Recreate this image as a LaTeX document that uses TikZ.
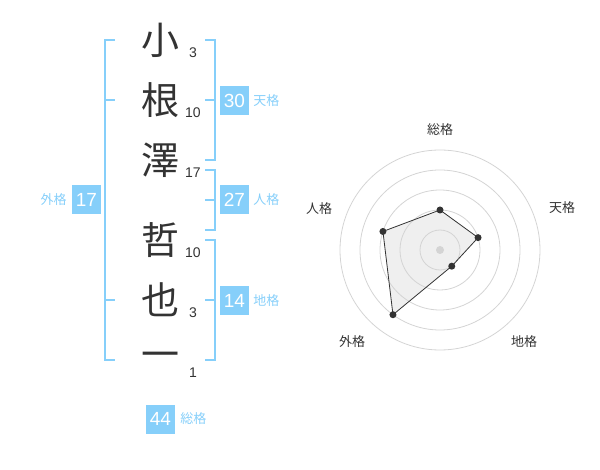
\documentclass[tikz,border=0pt]{standalone}
\usepackage{fontspec}
\setmainfont{Liberation Sans}
\newfontfamily\jp{Noto Sans CJK JP}
\usetikzlibrary{positioning}
\definecolor{sky}{HTML}{86CFFA}
\definecolor{ink}{HTML}{333333}
\definecolor{ring}{HTML}{D4D4D4}
\definecolor{area}{HTML}{EFEFEF}
\tikzset{
  kanji/.style={text=ink,font=\jp\fontsize{38}{38}\selectfont,inner sep=0pt},
  strokes/.style={text=ink,font=\fontsize{14}{14}\selectfont,inner sep=0pt},
  score/.style={fill=sky,text=white,minimum size=29pt,inner sep=0pt,font=\fontsize{19}{19}\selectfont},
  kaku/.style={text=sky,font=\jp\fontsize{13}{13}\selectfont,inner sep=0pt},
  bracket/.style={draw=sky,line width=2pt},
  axis/.style={text=ink,font=\jp\fontsize{13}{13}\selectfont,inner sep=0pt}
}
\begin{document}
\begin{tikzpicture}[x=1pt,y=-1pt]
  \useasboundingbox (0,0) rectangle (600,470);

  % name
  \node[kanji] at (160,40) (k1) {小};
  \node[kanji] at (160,100) (k2) {根};
  \node[kanji] at (160,160) (k3) {澤};
  \node[kanji] at (160,240) (k4) {哲};
  \node[kanji] at (160,300) (k5) {也};
  \node[kanji] at (160,360) (k6) {一};

  \node[strokes] at (193,53) (s1) {3};
  \node[strokes] at (193,113) (s2) {10};
  \node[strokes] at (193,173) (s3) {17};
  \node[strokes] at (193,253) (s4) {10};
  \node[strokes] at (193,313) (s5) {3};
  \node[strokes] at (193,373) (s6) {1};

  % brackets
  \draw[bracket] (115,40) -- (105,40) -- (105,360) -- (115,360);
  \draw[bracket] (105,100) -- (115,100) (105,300) -- (115,300);
  \draw[bracket] (205,40) -- (215,40) -- (215,160) -- (205,160) (215,100) -- (205,100);
  \draw[bracket] (205,170) -- (215,170) -- (215,230) -- (205,230) (215,200) -- (205,200);
  \draw[bracket] (205,240) -- (215,240) -- (215,360) -- (205,360) (215,300) -- (205,300);

  % scores
  \node[score] at (234.5,100.5) (ten) {30};
  \node[kaku,right=4pt of ten] {天格};
  \node[score] at (234.5,200) (jin) {27};
  \node[kaku,right=4pt of jin] {人格};
  \node[score] at (234.5,300.5) (chi) {14};
  \node[kaku,right=4pt of chi] {地格};
  \node[score] at (86.5,200) (gai) {17};
  \node[kaku,left=5pt of gai] {外格};
  \node[score] at (160.5,419) (sou) {44};
  \node[kaku,right=5pt of sou] {総格};

  % radar
  \begin{scope}[shift={(440,250)},yscale=-1]
    \fill[area] (90:40) -- (18:40) -- (-54:20) -- (-126:80) -- (162:60) -- cycle;
    \foreach \r in {20,40,60,80,100}
      \draw[ring,line width=0.8pt] (0,0) circle (\r);
    \fill[ring] (0,0) circle (4);
    \draw[ink,line width=0.8pt]
      (90:40) -- (18:40) -- (-54:20) -- (-126:80) -- (162:60) -- cycle;
    \foreach \a/\r in {90/40,18/40,-54/20,-126/80,162/60}
      \fill[ink] (\a:\r) circle (3.5);
    \node[axis] at (0,120) {総格};
    \node[axis] at (122,42) {天格};
    \node[axis] at (84,-92) {地格};
    \node[axis] at (-88,-92) {外格};
    \node[axis] at (-121,41) {人格};
  \end{scope}
\end{tikzpicture}
\end{document}
